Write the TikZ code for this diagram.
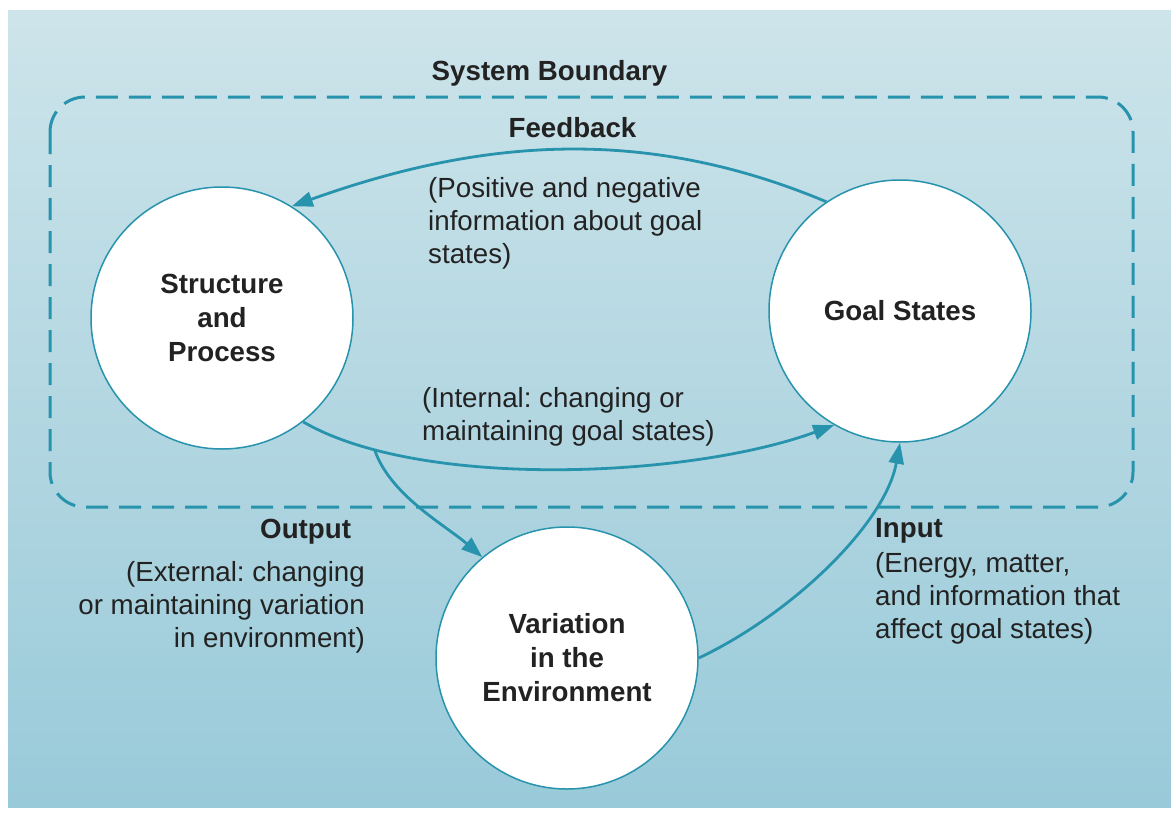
\documentclass[tikz,border=0pt]{standalone}
\usepackage{fontspec}
\setmainfont{Liberation Sans}
\usetikzlibrary{arrows.meta}
\definecolor{bgtop}{HTML}{CDE4EA}
\definecolor{bgbot}{HTML}{99CAD9}
\definecolor{teal1}{HTML}{2793AD}
\definecolor{txt}{HTML}{222222}
\frenchspacing
\begin{document}
\begin{tikzpicture}[x=1pt,y=-1pt,
  every node/.style={text=txt},
  lbl/.style={font=\fontsize{27.7}{33}\selectfont, inner sep=0pt},
  blbl/.style={inner sep=0pt, font=\fontsize{27.7}{33}\selectfont\bfseries},
  circ/.style={circle, draw=teal1, line width=1.5pt, fill=white, minimum size=262pt, inner sep=0pt, align=center, font=\fontsize{27.7}{34}\selectfont\bfseries},
  flow/.style={draw=teal1, line width=2.8pt, -{Triangle[length=21pt,width=15pt]}},
  bound/.style={draw=teal1, line width=3pt, dash pattern=on 22pt off 11pt}]
\useasboundingbox (0,0) rectangle (1171,819);
\fill[white] (0,0) rectangle (1171,819);
\shade[top color=bgtop, bottom color=bgbot] (8,10) rectangle (1171,807);
\draw[bound, rounded corners=35pt] (50,97) rectangle (1133,507);

\node[circ] (S) at (222,318) {Structure\\and\\Process};
\node[circ] (G) at (900,311) {Goal States};
\node[circ] (V) at (567,658) {Variation\\in the\\Environment};

\draw[flow] (G.124) .. controls (641,124) and (477,140) .. (S.58);
\draw[flow] (S.-52) .. controls (420,490) and (690,478) .. coordinate[pos=0.17] (br) (G.-120);
\draw[flow] (br) .. controls (390,495) and (445,525) .. (V.130);
\draw[flow] (V.0) .. controls (790,615) and (885,525) .. (G.-90);

\node[blbl, anchor=base] (sb) at (549.5,80) {System Boundary};
\node[blbl, anchor=base] (fb) at (572.5,137) {Feedback};
\node[lbl, anchor=base west, align=left] (fbt) at (428,263) {(Positive and negative\\information about goal\\states)};
\node[lbl, anchor=base west, align=left] (intt) at (422,440) {(Internal: changing or\\maintaining goal states)};
\node[blbl, anchor=base west] (out) at (260,538) {Output};
\node[lbl, anchor=base east, align=right] (outt) at (365,647) {(External: changing\\or maintaining variation\\in environment)};
\node[blbl, anchor=base west] (in) at (875,537) {Input};
\node[lbl, anchor=base west, align=left] (intx) at (875,638) {(Energy, matter,\\and information that\\affect goal states)};
\end{tikzpicture}
\end{document}
